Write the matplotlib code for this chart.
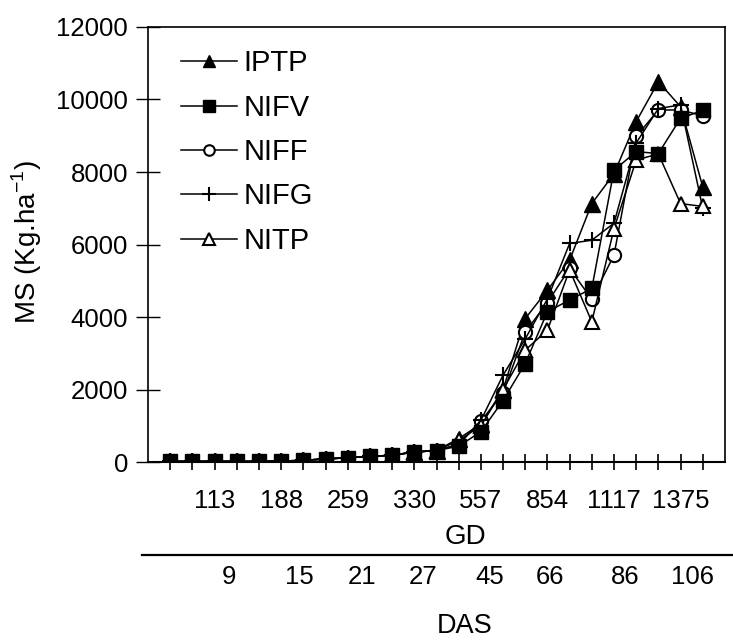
import matplotlib
matplotlib.use("Agg")
import matplotlib.pyplot as plt
from matplotlib.lines import Line2D

plt.rcParams["font.family"] = ["Liberation Sans", "DejaVu Sans"]

# sampling index along the season (one point per harvest)
sample = list(range(1, 26))

iptp = [20, 20, 20, 20, 20, 30, 50, 90, 120, 160, 190, 280, 320, 650, 1050,
        2000, 3960, 4740, 5570, 7130, 7950, 9390, 10490, 9800, 7590]
nifv = [20, 20, 20, 20, 20, 30, 50, 90, 120, 160, 190, 280, 320, 440, 840,
        1700, 2720, 4150, 4470, 4790, 8050, 8560, 8510, 9480, 9700]
niff = [20, 20, 20, 20, 20, 30, 50, 90, 120, 160, 190, 280, 320, 500, 1130,
        1900, 3590, 4400, 5340, 4490, 5710, 8980, 9710, 9710, 9550]
nifg = [20, 20, 20, 20, 20, 30, 50, 90, 120, 160, 190, 280, 320, 480, 1150,
        2400, 3400, 4500, 6030, 6120, 6590, 8800, 9750, 9850, 7000]
nitp = [20, 20, 20, 20, 20, 30, 50, 90, 120, 160, 190, 280, 320, 600, 1000,
        2000, 3090, 3640, 5300, 3870, 6440, 8330, 8500, 7130, 7050]

gd_ticks = [3, 6, 9, 12, 15, 18, 21, 24]
gd_labels = ["113", "188", "259", "330", "557", "854", "1117", "1375"]
das_pos = [3.65, 6.8, 9.66, 12.4, 15.4, 18.1, 21.5, 24.55]
das_labels = ["9", "15", "21", "27", "45", "66", "86", "106"]

fig = plt.figure(figsize=(7.33, 6.41), dpi=100)
ax = fig.add_axes([0.202, 0.279, 0.787, 0.679])

styles = [
    ("IPTP", iptp, dict(marker="^", mfc="black", ms=11)),
    ("NIFF", niff, dict(marker="o", mfc="white", ms=9.5, mew=1.5)),
    ("NIFG", nifg, dict(marker="+", ms=12, mew=1.5)),
    ("NITP", nitp, dict(marker="^", mfc="white", ms=10, mew=1.5)),
    ("NIFV", nifv, dict(marker="s", mfc="black", ms=10)),
]
handles = {}
for name, values, kw in styles:
    (ln,) = ax.plot(sample, values, color="black", lw=1.1, mec="black", **kw)
    handles[name] = ln

order = ["IPTP", "NIFV", "NIFF", "NIFG", "NITP"]
ax.legend([handles[k] for k in order], order, loc="upper left",
          bbox_to_anchor=(0.036, 0.975), frameon=False, fontsize=21,
          handlelength=1.95, handletextpad=0.2, labelspacing=0.56,
          borderaxespad=0.0, markerscale=0.8)

ax.set_xlim(0, 26)
ax.set_ylim(0, 12000)
ax.set_yticks(range(0, 12001, 2000))
ax.set_xticks(sample)
ax.set_xticklabels([gd_labels[gd_ticks.index(i)] if i in gd_ticks else ""
                    for i in sample])
ax.tick_params(axis="x", direction="inout", length=12, width=1.2,
               labelsize=18.5, pad=13)
ax.tick_params(axis="y", direction="inout", length=17, width=1.0,
               labelsize=18.5, pad=6)
for sp in ax.spines.values():
    sp.set_linewidth(1.2)
ax.spines["bottom"].set_linewidth(1.5)

W, H = 733, 641
fig.text(27 / W, 1 - 242 / H, r"MS (Kg.ha$^{\mathregular{-1}}$)",
         rotation=90, ha="center", va="center", fontsize=20)
fig.text(465 / W, 1 - 537 / H, "GD", ha="center", va="center", fontsize=20)
fig.add_artist(Line2D([142 / W, 1.0], [1 - 555 / H, 1 - 555 / H],
                      color="black", lw=1.6, transform=fig.transFigure))
for pos, lab in zip(das_pos, das_labels):
    xf = ax.transData.transform((pos, 0))[0] / fig.dpi / fig.get_figwidth()
    fig.text(xf, 1 - 577 / H, lab, ha="center", va="center", fontsize=18.5)
fig.text(465 / W, 1 - 633 / H, "DAS", ha="center", va="baseline", fontsize=19.5)

fig.savefig("out.png", dpi=100)
